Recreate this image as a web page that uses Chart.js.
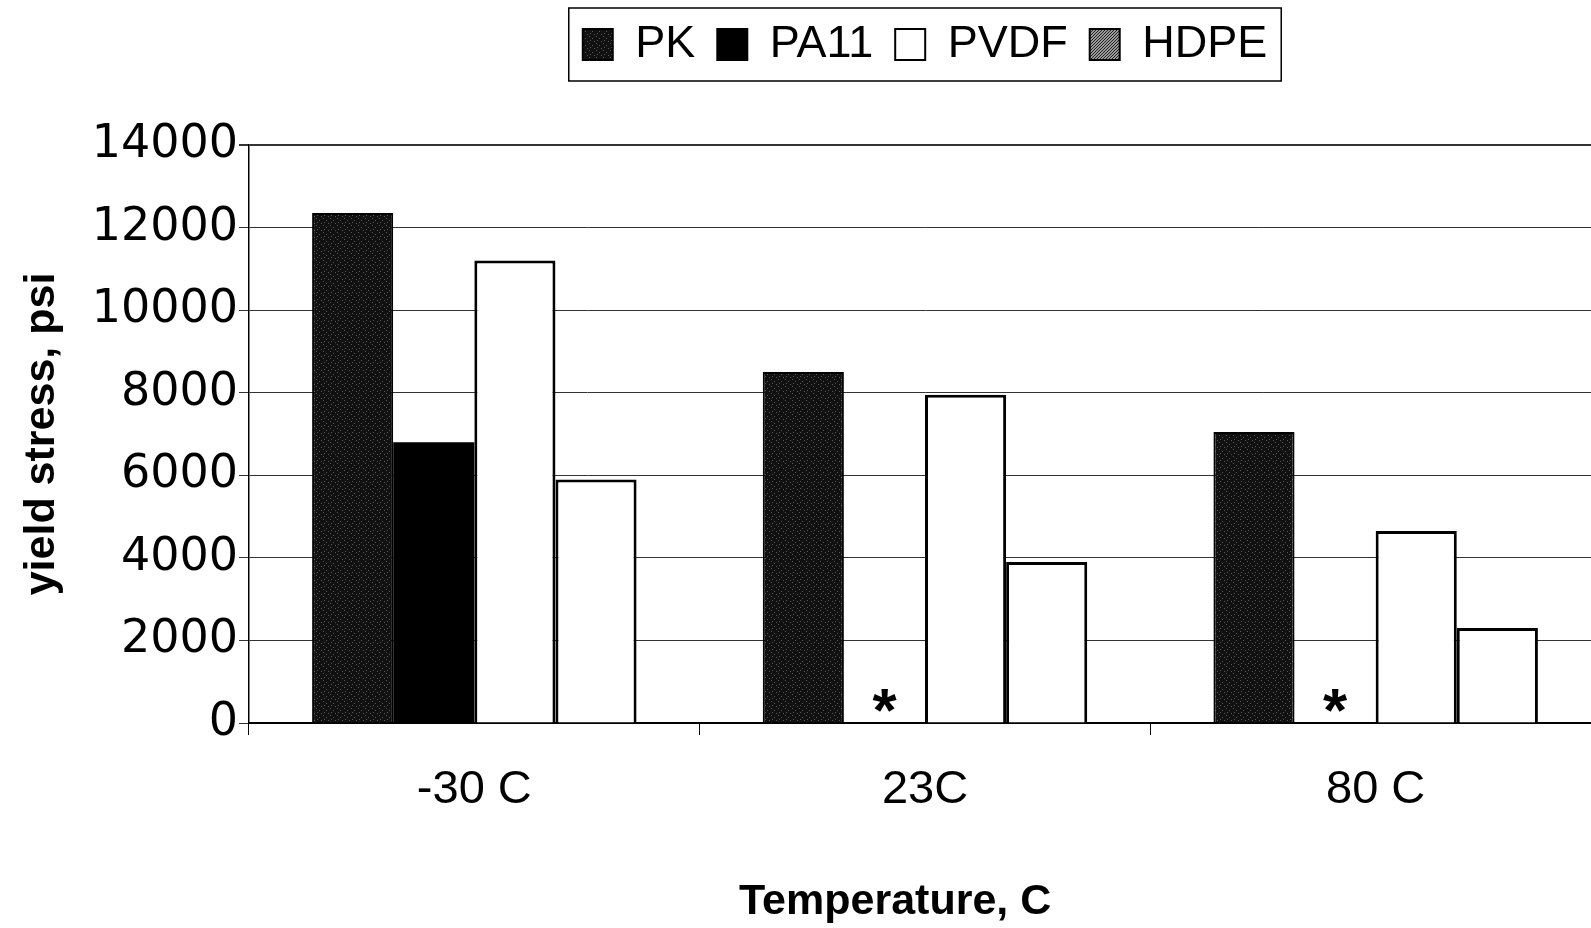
<!DOCTYPE html>
<html>
<head>
<meta charset="utf-8">
<title>Yield stress vs temperature</title>
<script src="https://cdn.jsdelivr.net/npm/chart.js@4.4.1/dist/chart.umd.min.js"></script>
<style>
  html, body { margin: 0; padding: 0; background: #fff; overflow: hidden; }
  #wrap { position: relative; width: 1601px; height: 928px; }
</style>
</head>
<body>
<div id="wrap"><canvas id="yieldChart"></canvas></div>
<script>
const categories = ["-30 C", "23C", "80 C"];
const pkValues = [12350, 8500, 7050];
const pa11Values = [6800, null, null];
const pvdfValues = [11200, 7950, 4650];
const hdpeValues = [5900, 3900, 2300];
const pa11Notes = ["", "*", "*"];   // no PA11 data at these temps
const yMin = 0;
const yMax = 14000;
const yStep = 2000;

const FONT = '"Liberation Sans", Arial, sans-serif';
const TICK_FONT = '"DejaVu Sans", sans-serif';

// small fixed fill textures, like the scanned print
function makePattern(size, base, dots, dotColor) {
    const c = document.createElement("canvas");
    c.width = size;
    c.height = size;
    const g = c.getContext("2d");
    g.fillStyle = base;
    g.fillRect(0, 0, size, size);
    g.fillStyle = dotColor;
    dots.forEach(d => g.fillRect(d[0], d[1], 1, 1));
    return g.createPattern(c, "repeat");
}

const ctx = document.getElementById("yieldChart").getContext("2d");
const pkFill = makePattern(7, "#111", [[1, 1], [4, 3], [2, 5], [6, 6]], "#5a5a5a");
const hdpeSwatch = makePattern(3, "#9a9a9a", [[0, 0], [2, 1], [1, 2]], "#222");

// make room under the legend, plot starts lower
const legendSpacer = {
    id: "legendSpacer",
    afterInit(chart) {
        const fit = chart.legend.fit;
        chart.legend.fit = function () {
            fit.call(this);
            this.height += 68;
        };
    }
};

// frame round the legend
const legendFrame = {
    id: "legendFrame",
    afterDraw(chart) {
        const boxes = chart.legend.legendHitBoxes;
        if (!boxes || !boxes.length) return;
        let l = Infinity, r = -Infinity, t = Infinity, b = -Infinity;
        boxes.forEach(h => {
            l = Math.min(l, h.left);
            r = Math.max(r, h.left + h.width);
            t = Math.min(t, h.top);
            b = Math.max(b, h.top + h.height);
        });
        const c = chart.ctx;
        c.save();
        c.strokeStyle = "#000";
        c.lineWidth = 1.5;
        c.strokeRect(l - 14, t - 14, r - l + 28, b - t + 28);
        c.restore();
    }
};

// asterisk where PA11 has no bar
const missingMarks = {
    id: "missingMarks",
    afterDatasetsDraw(chart) {
        const meta = chart.getDatasetMeta(1);
        const y0 = chart.scales.y.getPixelForValue(0);
        const c = chart.ctx;
        c.save();
        c.font = "bold 62px " + FONT;
        c.textAlign = "center";
        c.textBaseline = "alphabetic";
        c.fillStyle = "#000";
        pa11Notes.forEach((note, i) => {
            if (!note) return;
            const m = c.measureText(note);
            const y = (y0 - 23) + (m.actualBoundingBoxAscent - m.actualBoundingBoxDescent) / 2;
            c.fillText(note, meta.data[i].x, y);
        });
        c.restore();
    }
};

const yieldChart = new Chart(ctx, {
    type: "bar",
    data: {
        labels: categories,
        datasets: [
            {
                label: "PK",
                data: pkValues,
                backgroundColor: pkFill,
                borderColor: "#000",
                borderWidth: 2
            },
            {
                label: "PA11",
                data: pa11Values,
                backgroundColor: "#000",
                borderColor: "#000",
                borderWidth: 0
            },
            {
                label: "PVDF",
                data: pvdfValues,
                backgroundColor: "#fff",
                borderColor: "#000",
                borderWidth: 3
            },
            {
                label: "HDPE",
                data: hdpeValues,
                backgroundColor: "#fff",
                borderColor: "#000",
                borderWidth: 3
            }
        ]
    },
    options: {
        responsive: true,
        maintainAspectRatio: false,
        animation: false,
        datasets: {
            bar: { categoryPercentage: 0.72, barPercentage: 1.0 }
        },
        layout: { padding: { left: 12, top: 0, right: 0, bottom: 0 } },
        plugins: {
            tooltip: { enabled: false },
            legend: {
                position: "top",
                fullSize: false,
                labels: {
                    color: "#000",
                    font: { family: FONT, size: 45 },
                    boxWidth: 30,
                    boxHeight: 31,
                    padding: 22,
                    generateLabels(chart) {
                        const items = Chart.defaults.plugins.legend.labels.generateLabels(chart);
                        items.forEach(it => {
                            it.strokeStyle = "#000";
                            it.lineWidth = 2;
                            if (it.text === "HDPE") it.fillStyle = hdpeSwatch;
                        });
                        return items;
                    }
                }
            }
        },
        scales: {
            x: {
                grid: {
                    display: true,
                    drawOnChartArea: false,
                    drawTicks: true,
                    tickLength: 12,
                    color: "#000",
                    offset: true
                },
                border: { color: "#000", width: 2 },
                ticks: {
                    color: "#000",
                    font: { family: FONT, size: 47 },
                    padding: 27
                },
                title: {
                    display: true,
                    // trailing spaces pull the title a bit left, as in the original
                    text: "Temperature, C     ",
                    color: "#000",
                    font: { family: FONT, size: 43, weight: "bold" },
                    padding: { top: 31, bottom: 0 }
                }
            },
            y: {
                min: yMin,
                max: yMax,
                afterFit(scale) {
                    scale.width = 237;
                },
                grid: {
                    color: "#333",
                    lineWidth: c => (c.tick && c.tick.value === yMax ? 2 : 1),
                    tickLength: 10
                },
                border: { color: "#000", width: 1.5 },
                ticks: {
                    stepSize: yStep,
                    color: "#000",
                    font: { family: TICK_FONT, size: 46 },
                    padding: 1,
                    callback: v => String(v)
                },
                title: {
                    display: true,
                    text: "yield stress, psi",
                    color: "#000",
                    font: { family: FONT, size: 43, weight: "bold" },
                    padding: { top: 4, bottom: 4 }
                }
            }
        }
    },
    plugins: [legendSpacer, legendFrame, missingMarks]
});
</script>
</body>
</html>
